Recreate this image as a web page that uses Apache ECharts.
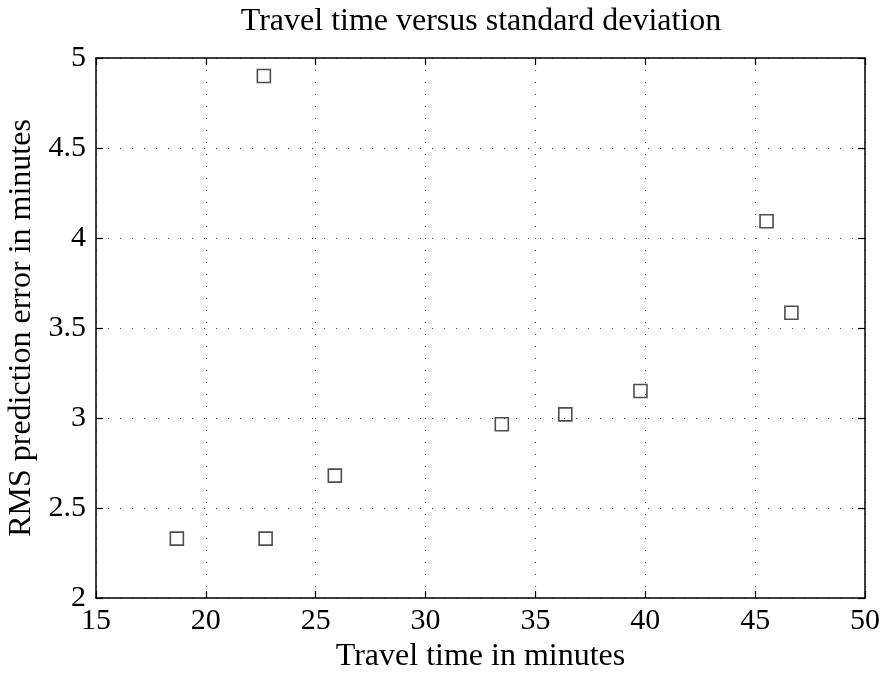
<!DOCTYPE html>
<html><head><meta charset="utf-8">
<script src="https://cdn.jsdelivr.net/npm/echarts@6/dist/echarts.min.js"></script>
<style>html,body{margin:0;padding:0;background:#fff}#c{width:885px;height:678px}</style>
</head><body><div id="c"></div>
<script>
const xValues = [18.68, 22.72, 22.64, 25.87, 33.47, 36.36, 39.78, 45.52, 46.65];
const yValues = [2.33, 2.33, 4.90, 2.68, 2.965, 3.02, 3.15, 4.093, 3.585];
const titleText = 'Travel time versus standard deviation';
const xName = 'Travel time in minutes';
const yName = 'RMS prediction error in minutes';

const font = 'Liberation Serif';
const chart = echarts.init(document.getElementById('c'));
const pts = xValues.map((x, i) => [x, yValues[i]]);
const grid = {left: 96, right: 20, top: 58, bottom: 80, containLabel: false, outerBoundsMode: 'none'};
const mkX = (pos, show) => ({
  type: 'value', min: 15, max: 50, interval: 5, position: pos,
  axisLine: {show: true, onZero: false, lineStyle: {color: '#000', width: 1.5}},
  axisTick: {show: true, inside: true, length: 7, lineStyle: {color: '#000', width: 1.2}},
  axisLabel: {show: show, color: '#000', fontFamily: font, fontSize: 30, margin: 8},
  splitLine: {show: show, lineStyle: {color: '#444', type: [1, 11], width: 1}},
  name: show ? xName : '', nameLocation: 'middle', nameGap: 43,
  nameTextStyle: {color: '#000', fontFamily: font, fontSize: 32}
});
const mkY = (pos, show) => ({
  type: 'value', min: 2, max: 5, interval: 0.5, position: pos,
  axisLine: {show: true, onZero: false, lineStyle: {color: '#000', width: 1.5}},
  axisTick: {show: true, inside: true, length: 7, lineStyle: {color: '#000', width: 1.2}},
  axisLabel: {show: show, color: '#000', fontFamily: font, fontSize: 30, margin: 10},
  splitLine: {show: show, lineStyle: {color: '#444', type: [1, 11], width: 1}},
  name: show ? yName : '', nameLocation: 'middle', nameGap: 52,
  nameTextStyle: {color: '#000', fontFamily: font, fontSize: 32}
});
chart.setOption({
  animation: false,
  backgroundColor: '#fff',
  title: {text: titleText, left: 476, top: 1, textAlign: 'center', padding: 5,
    textStyle: {color: '#000', fontFamily: font, fontSize: 32, fontWeight: 'normal'}},
  grid: grid,
  xAxis: [mkX('bottom', true), mkX('top', false)],
  yAxis: [mkY('left', true), mkY('right', false)],
  series: [{
    type: 'scatter', data: pts, symbol: 'rect', symbolSize: 13,
    itemStyle: {color: 'rgba(0,0,0,0)', borderColor: '#222', borderWidth: 1.6}
  }]
});
</script></body></html>
